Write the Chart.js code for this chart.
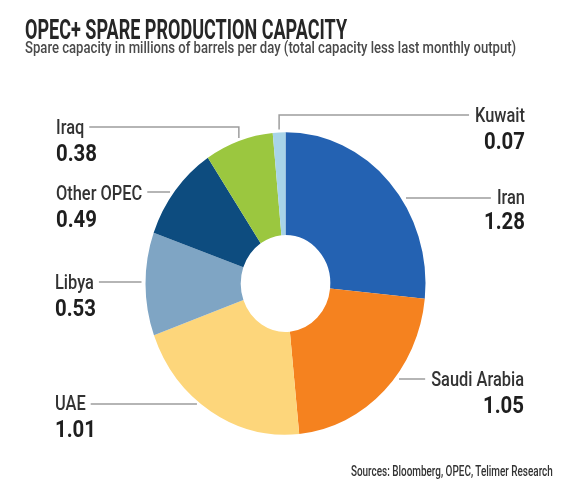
<!DOCTYPE html>
<html>
<head>
<meta charset="utf-8">
<script src="https://cdn.jsdelivr.net/npm/chart.js@4.4.1/dist/chart.umd.min.js"></script>
<style>
  html, body { margin: 0; padding: 0; background: #fff; }
  #page { position: relative; width: 571px; height: 483px; overflow: hidden; font-family: Roboto, 'Liberation Sans', sans-serif; }
  #chartBox { position: absolute; left: 0; top: 0; width: 571px; height: 483px; }
  .txt { position: absolute; white-space: nowrap; }
  #title { left: 25px; top: 16px; font-size: 28px; line-height: 28px; font-weight: 700; color: #262626; transform-origin: left top; }
  #subtitle { left: 25px; top: 40px; font-size: 16px; line-height: 16px; font-weight: 500; color: #4a4a4a; transform-origin: left top; }
  #source { right: 18px; top: 464px; font-size: 15px; line-height: 15px; font-weight: 500; color: #333; transform-origin: right top; }
</style>
</head>
<body>
<div id="page">
  <div id="chartBox"><canvas id="opecChart"></canvas></div>
  <div class="txt" id="title">OPEC+ SPARE PRODUCTION CAPACITY</div>
  <div class="txt" id="subtitle">Spare capacity in millions of barrels per day (total capacity less last monthly output)</div>
  <div class="txt" id="source">Sources: Bloomberg, OPEC, Telimer Research</div>
</div>
<script>
// data, clockwise from 12 o'clock
const countries = ['Iran', 'Saudi Arabia', 'UAE', 'Libya', 'Other OPEC', 'Iraq', 'Kuwait'];
const spareCapacity = [1.28, 1.05, 1.01, 0.53, 0.49, 0.38, 0.07];
const sliceColours = ['#2462b2', '#f5821f', '#fdd67b', '#7fa5c4', '#0d4c7f', '#9bc73f', '#a8d4e8'];

// where each callout sits (same order as countries)
const callouts = [
  { side: 'right', x: 525, nameY: 204, valueY: 229, lineY: 198 },
  { side: 'right', x: 524, nameY: 386, valueY: 413, lineY: 379 },
  { side: 'left', x: 55, nameY: 410, valueY: 437, lineY: 404 },
  { side: 'left', x: 55, nameY: 289, valueY: 316, lineY: 282 },
  { side: 'left', x: 56, nameY: 200, valueY: 227, lineY: 192 },
  { side: 'left', x: 56, nameY: 134, valueY: 161, lineY: 127, elbow: true },
  { side: 'right', x: 525, nameY: 122, valueY: 149, lineY: 115, elbow: true }
];

const stretchY = 1.08; // the printed donut is a little taller than wide
const nameFont = '500 20px Roboto';
const valueFont = '700 24px Roboto';
const nameSqueeze = 0.82;
const valueSqueeze = 0.85;

function squeeze(id, w) {
  const el = document.getElementById(id);
  el.style.transform = 'scaleX(' + (w / el.offsetWidth) + ')';
}
squeeze('title', 322);
squeeze('subtitle', 491);
squeeze('source', 202);

function squeezedText(ctx, text, x, y, align, sx) {
  ctx.save();
  ctx.translate(x, y);
  ctx.scale(sx, 1);
  ctx.textAlign = align;
  ctx.textBaseline = 'alphabetic';
  ctx.fillText(text, 0, 0);
  ctx.restore();
}

const stretchPlugin = {
  id: 'stretch',
  beforeDatasetsDraw(chart) {
    const arc = chart.getDatasetMeta(0).data[0];
    const ctx = chart.ctx;
    ctx.save();
    ctx.translate(arc.x, arc.y);
    ctx.scale(1, stretchY);
    ctx.translate(-arc.x, -arc.y);
  },
  afterDatasetsDraw(chart) {
    chart.ctx.restore();
  }
};

const calloutPlugin = {
  id: 'callouts',
  afterDraw(chart) {
    const ctx = chart.ctx;
    const arcs = chart.getDatasetMeta(0).data;
    arcs.forEach(function (arc, i) {
      const p = callouts[i];
      const R = arc.outerRadius, cx = arc.x, cy = arc.y;
      ctx.save();
      ctx.font = nameFont;
      const nameW = ctx.measureText(countries[i]).width * nameSqueeze;
      const textEdge = p.side === 'left' ? p.x + nameW + 5 : p.x - nameW - 6;

      ctx.strokeStyle = '#9d9d9d';
      ctx.lineWidth = 1.5;
      ctx.beginPath();
      ctx.moveTo(textEdge, p.lineY);
      if (p.elbow) {
        const mid = (arc.startAngle + arc.endAngle) / 2;
        const ex = cx + R * Math.cos(mid);
        const ey = cy + R * stretchY * Math.sin(mid);
        ctx.lineTo(ex, p.lineY);
        ctx.lineTo(ex, ey - 3);
      } else {
        const dy = (p.lineY - cy) / (R * stretchY);
        const half = R * Math.sqrt(Math.max(0, 1 - dy * dy));
        ctx.lineTo(p.side === 'left' ? cx - half - 4 : cx + half + 5, p.lineY);
      }
      ctx.stroke();

      const align = p.side === 'left' ? 'left' : 'right';
      ctx.fillStyle = '#333333';
      squeezedText(ctx, countries[i], p.x, p.nameY, align, nameSqueeze);
      ctx.font = valueFont;
      ctx.fillStyle = '#1e1e1e';
      squeezedText(ctx, spareCapacity[i].toFixed(2), p.x, p.valueY, align, valueSqueeze);
      ctx.restore();
    });
  }
};

new Chart(document.getElementById('opecChart'), {
  type: 'doughnut',
  data: {
    labels: countries,
    datasets: [{
      data: spareCapacity,
      backgroundColor: sliceColours,
      borderWidth: 0,
      hoverOffset: 0,
      offset: 0
    }]
  },
  options: {
    responsive: true,
    maintainAspectRatio: false,
    animation: false,
    cutout: '32%',
    layout: { padding: { left: 145.5, right: 145.5, top: 143.5, bottom: 59.5 } },
    plugins: {
      legend: { display: false },
      tooltip: { enabled: false }
    }
  },
  plugins: [stretchPlugin, calloutPlugin]
});
</script>
</body>
</html>
